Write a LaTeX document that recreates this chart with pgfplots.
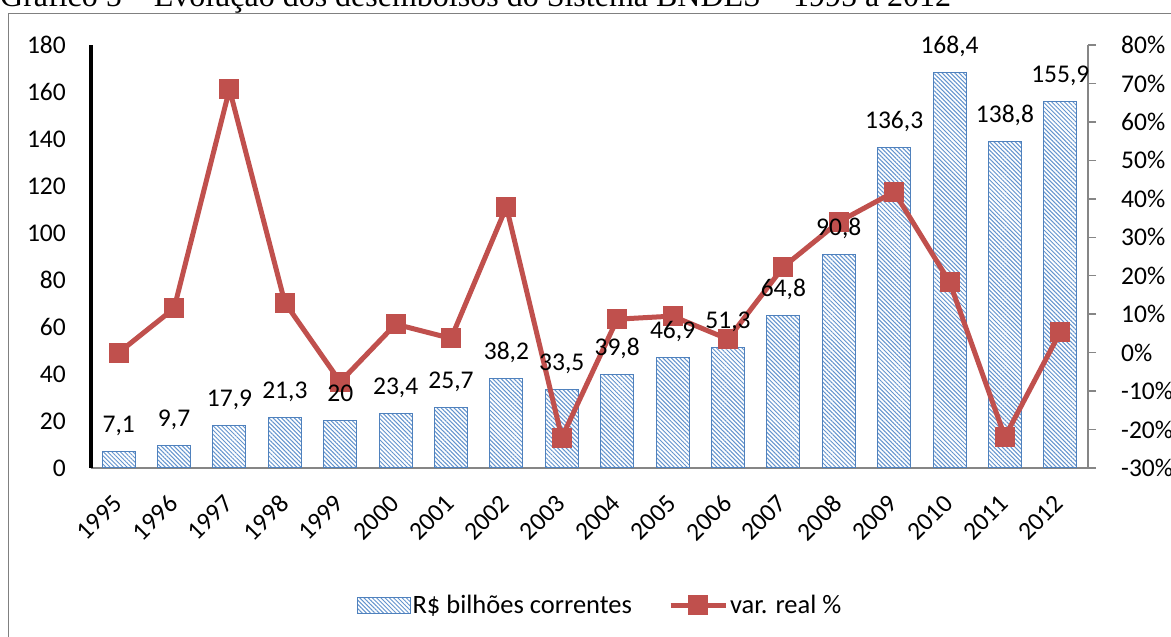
\documentclass[border=0pt]{standalone}
\usepackage{pgfplots}
\pgfplotsset{compat=1.18}
\usepackage{pgfplotstable}
\usetikzlibrary{patterns.meta}
\usepackage{fontspec}
\setmainfont{Carlito}
\newfontfamily\titlefont{Liberation Serif}
\definecolor{barblue}{RGB}{79,129,189}
\definecolor{hatchblue}{RGB}{100,148,206}
\definecolor{linered}{RGB}{192,80,77}
\definecolor{axgray}{RGB}{134,134,134}
\definecolor{boxgray}{RGB}{128,128,128}

\pgfplotstableread{
x bn var
0 7.1 0
1 9.7 11.5
2 17.9 68.5
3 21.3 13.0
4 20 -7.6
5 23.4 7.4
6 25.7 3.7
7 38.2 37.9
8 33.5 -22.1
9 39.8 8.7
10 46.9 9.5
11 51.3 3.5
12 64.8 22.3
13 90.8 34.0
14 136.3 41.8
15 168.4 18.4
16 138.8 -21.9
17 155.9 5.4
}\data

\pgfplotsset{
  every axis/.append style={/pgf/number format/assume math mode=true},
  baseax/.style={at={(91pt,169pt)}, anchor=south west, width=997pt, height=423pt,
    scale only axis, xmin=-0.5, xmax=17.5, font=\fontsize{25.5}{30}\selectfont},
  linelegend/.style={legend image code/.code={
    \draw[##1, mark repeat=2, mark phase=2] plot coordinates {(0pt,0pt) (27.5pt,0pt) (55pt,0pt)};}},
  barlegend/.style={legend image code/.code={
    \draw[draw=barblue, line width=1pt, fill=white,
      postaction={pattern={Lines[angle=-45,distance=3pt,line width=1pt]}, pattern color=hatchblue}]
      (0pt,-8pt) rectangle (53pt,8pt);}},
}

\begin{document}
\begin{tikzpicture}[x=1pt,y=1pt]
\useasboundingbox (0,0) rectangle (1171,637);
\clip (0,0) rectangle (1171,637);
\node[anchor=base west, inner sep=0pt, font=\titlefont\fontsize{32}{38}\selectfont] at (0,630) {Gráfico 5 – Evolução dos desembolsos do Sistema BNDES – 1995 a 2012};
\draw[boxgray, line width=1.5pt] (8.5,-20) -- (8.5,623.5) -- (1200,623.5);

% bars
\begin{axis}[baseax, ymin=0, ymax=180,
  axis x line*=bottom, axis y line*=left,
  separate axis lines,
  x axis line style={axgray, line width=1.5pt, -},
  y axis line style={black, line width=4.5pt, -},
  ytick={0,20,...,180}, yticklabels={0,20,40,60,80,100,120,140,160,180},
  xtick={0,...,17},
  xticklabels={1995,1996,1997,1998,1999,2000,2001,2002,2003,2004,2005,2006,2007,2008,2009,2010,2011,2012},
  major tick length=0pt,
  yticklabel style={anchor=east, inner sep=0pt, xshift=-25pt},
  xticklabel style={xshift=-7pt, yshift=-25pt, rotate=45, anchor=north east, inner sep=0pt},
  ybar, bar width=33pt,
]
\addplot[draw=barblue, line width=1pt, fill=white,
  postaction={pattern={Lines[angle=-45,distance=3pt,line width=1pt]}, pattern color=hatchblue}]
  table[x=x,y=bn]{\data};
\end{axis}

% line
\begin{axis}[baseax, ymin=-30, ymax=80,
  axis x line=none, axis y line*=right,
  y axis line style={axgray, line width=1.5pt, -},
  ytick={-30,-20,...,80},
  yticklabels={-30\%,-20\%,-10\%,0\%,10\%,20\%,30\%,40\%,50\%,60\%,70\%,80\%},
  ytick style={axgray, line width=1.5pt},
  tick align=outside, major tick length=8pt,
  yticklabel style={anchor=west, inner sep=0pt, xshift=25pt},
  legend columns=2,
  legend style={at={(0.5105,-0.324)}, anchor=center, draw=none, fill=none,
    font=\fontsize{26.5}{31}\selectfont,
    /tikz/every even column/.append style={column sep=34pt}},
]
\addlegendimage{barlegend}
\addlegendentry{R\$ bilhões correntes}
\addplot[linered, line width=5pt, mark=square*, mark size=9.5pt,
  mark options={solid, fill=linered, draw=linered, line width=0pt}, linelegend]
  table[x=x,y=var]{\data};
\addlegendentry{var. real \%}
\end{axis}

% labels on top
\begin{axis}[baseax, ymin=0, ymax=180, hide axis, ybar, bar width=33pt,
  nodes near coords={\pgfmathprintnumber[fixed,precision=1,use comma]{\pgfplotspointmeta}},
  every node near coord/.append style={anchor=base, inner sep=0pt, yshift=19pt,
    font=\fontsize{25.5}{30}\selectfont, text=black},
]
\addplot[draw=none, fill=none] table[x=x,y=bn]{\data};
\end{axis}
\end{tikzpicture}
\end{document}
